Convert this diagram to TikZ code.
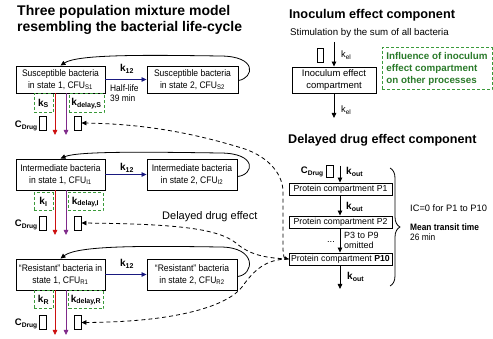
\documentclass[tikz,border=0pt]{standalone}
\usepackage{fontspec}
\setmainfont{Liberation Sans}
\newfontfamily\narrowfont[FakeStretch=0.9]{Liberation Sans}
\usetikzlibrary{arrows.meta,calc,decorations.pathreplacing}
\definecolor{dgreen}{HTML}{3A9A3A}
\definecolor{gtext}{HTML}{2A7A2A}
\definecolor{kred}{HTML}{CC1010}
\definecolor{kpurple}{HTML}{7F2A8A}
\definecolor{knavy}{HTML}{1A1A80}
\newcommand{\sbs}[1]{\textsubscript{#1}}
\begin{document}
\begin{tikzpicture}[x=1pt,y=-1pt,
  font=\fontsize{9.3}{11}\selectfont,
  bbox/.style={draw,line width=0.9pt,align=center,inner sep=0pt,font=\narrowfont\fontsize{9.5}{12}\selectfont},
  pbox/.style={draw,line width=0.9pt,inner sep=0pt,minimum width=103,minimum height=12,font=\fontsize{8.7}{10}\selectfont},
  gbox/.style={draw=dgreen,line width=1pt,dash pattern=on 3pt off 2pt,inner sep=0pt,font=\bfseries\fontsize{10}{12}\selectfont},
  inrect/.style={draw,line width=0.9pt,minimum width=7,minimum height=14,inner sep=0pt},
  arr/.style={line width=0.8pt,-{Triangle[length=5pt,width=4.5pt]}},
  loopar/.style={line width=0.8pt,-{Triangle[length=5pt,width=4.5pt]}},
  dline/.style={line width=0.8pt,dash pattern=on 4pt off 3pt,-{Triangle[length=5pt,width=4.5pt]}},
  klab/.style={font=\bfseries\fontsize{10}{12}\selectfont,inner sep=0pt},
  cdrug/.style={font=\bfseries\fontsize{9.5}{11}\selectfont,inner sep=0pt,anchor=east}
]
\useasboundingbox (0,0) rectangle (493,339);

% ---------- titles ----------
\node[anchor=west,align=left,inner sep=0pt,font=\bfseries\fontsize{14}{16}\selectfont] (t1) at (17,20) {Three population mixture model\\resembling the bacterial life-cycle};
\node[anchor=west,inner sep=0pt,font=\bfseries\fontsize{12.7}{15}\selectfont] (t2) at (289,15) {Inoculum effect component};
\node[anchor=west,inner sep=0pt,font=\fontsize{9.7}{12}\selectfont] (t3) at (290,33) {Stimulation by the sum of all bacteria};
\node[anchor=west,inner sep=0pt,font=\bfseries\fontsize{12.6}{15}\selectfont] (t4) at (288,140) {Delayed drug effect component};
\node[anchor=west,inner sep=0pt,font=\fontsize{11}{13}\selectfont] (dde) at (162,217) {Delayed drug effect};

% ---------- bacteria boxes ----------
\node[bbox,minimum width=89,minimum height=27] (S1) at (60.5,79.5) {Susceptible bacteria\\in state 1, CFU\sbs{S1}};
\node[bbox,minimum width=91,minimum height=27] (S2) at (192.5,79.5) {Susceptible bacteria\\in state 2, CFU\sbs{S2}};
\node[bbox,minimum width=89,minimum height=31] (I1) at (60.5,174.5) {Intermediate bacteria\\in state 1, CFU\sbs{I1}};
\node[bbox,minimum width=90,minimum height=31] (I2) at (192,174.5) {Intermediate bacteria\\in state 2, CFU\sbs{I2}};
\node[bbox,minimum width=89,minimum height=31] (R1) at (60.5,274.5) {“Resistant” bacteria in\\state 1, CFU\sbs{R1}};
\node[bbox,minimum width=90,minimum height=31] (R2) at (192,274.5) {“Resistant” bacteria\\in state 2, CFU\sbs{R2}};

% k12 arrows
\draw[arr,draw=knavy,-{Triangle[length=5pt,width=4.5pt,fill=knavy]}] (S1) -- (S2);
\draw[arr,draw=knavy,-{Triangle[length=5pt,width=4.5pt,fill=knavy]}] (I1) -- (I2);
\draw[arr,draw=knavy,-{Triangle[length=5pt,width=4.5pt,fill=knavy]}] (R1) -- (R2);
\node[klab] (k12S) at (127,69) {k\sbs{12}};
\node[klab] (k12I) at (127,168) {k\sbs{12}};
\node[klab] (k12R) at (127,264) {k\sbs{12}};
\node[anchor=west,align=left,inner sep=0pt,font=\narrowfont\fontsize{9.3}{10.5}\selectfont] (hl) at (110,93) {Half-life\\39 min};

% loops
\draw[loopar] ($(S2.east)+(0,1)$) .. controls (254,78) and (258,56) .. (220,56) .. controls (150,55) and (78,54) .. (S1.north);
\draw[loopar] ($(I2.east)+(0,2)$) .. controls (254,175) and (258,153) .. (220,153) .. controls (150,152) and (78,151) .. (I1.north);
\draw[loopar] ($(R2.east)+(0,2)$) .. controls (254,275) and (258,247) .. (220,247) .. controls (150,246) and (78,245) .. (R1.north);

% ---------- kill / delay terms ----------
\node[gbox,minimum width=19,minimum height=19] (kS) at (43.5,103.5) {k\sbs{S}};
\node[gbox,minimum width=35,minimum height=19] (kdS) at (86.5,103.5) {k\sbs{delay,S}};
\node[gbox,minimum width=19,minimum height=18] (kI) at (43.5,202) {k\sbs{I}};
\node[gbox,minimum width=35,minimum height=18] (kdI) at (85.5,202) {k\sbs{delay,I}};
\node[gbox,minimum width=19,minimum height=18] (kR) at (43.5,300) {k\sbs{R}};
\node[gbox,minimum width=35,minimum height=18] (kdR) at (86,300) {k\sbs{delay,R}};

\coordinate (rS) at (55,135); \coordinate (pS) at (66,135);
\coordinate (rI) at (55,235); \coordinate (pI) at (66,235);
\coordinate (rR) at (55,335); \coordinate (pR) at (66,335);
\draw[arr,draw=kred,-{Triangle[length=5pt,width=4.5pt,fill=kred]}] (rS |- S1.south) -- (rS);
\draw[arr,draw=kpurple,-{Triangle[length=5pt,width=4.5pt,fill=kpurple]}] (pS |- S1.south) -- (pS);
\draw[arr,draw=kred,-{Triangle[length=5pt,width=4.5pt,fill=kred]}] (rI |- I1.south) -- (rI);
\draw[arr,draw=kpurple,-{Triangle[length=5pt,width=4.5pt,fill=kpurple]}] (pI |- I1.south) -- (pI);
\draw[arr,draw=kred,-{Triangle[length=5pt,width=4.5pt,fill=kred]}] (rR |- R1.south) -- (rR);
\draw[arr,draw=kpurple,-{Triangle[length=5pt,width=4.5pt,fill=kpurple]}] (pR |- R1.south) -- (pR);

\node[inrect] (cS) at (42.5,123) {};
\node[inrect] (dS) at (77.5,123) {};
\node[inrect] (cI) at (42.5,223) {};
\node[inrect] (dI) at (77.5,223) {};
\node[inrect] (cR) at (42.5,322.5) {};
\node[inrect] (dR) at (77.5,322.5) {};
\node[cdrug] (CS) at (38,126) {C\sbs{Drug}};
\node[cdrug] (CI) at (38,225) {C\sbs{Drug}};
\node[cdrug] (CR) at (38,324) {C\sbs{Drug}};

% ---------- inoculum component ----------
\node[inrect,minimum width=6] (iin) at (320,55) {};
\coordinate (istart) at (334,42);
\node[draw,line width=0.9pt,minimum width=84,minimum height=26,align=center,inner sep=0pt,font=\fontsize{9.5}{12}\selectfont] (inoc) at (334,80) {Inoculum effect\\compartment};
\draw[arr] (istart) -- (inoc.north);
\node[anchor=west,inner sep=0pt] (kel1) at (341,55) {k\sbs{el}};
\coordinate (iend) at (334,118);
\draw[arr] (inoc.south) -- (iend);
\node[anchor=west,inner sep=0pt] (kel2) at (341,110) {k\sbs{el}};
\node[gbox,text=gtext,align=left,minimum width=110,minimum height=42,inner sep=0pt,font=\bfseries\fontsize{9.8}{12.3}\selectfont] (infl) at (437,69) {Influence of inoculum\\effect compartment\\on other processes};

% ---------- protein chain ----------
\node[cdrug] (CP) at (324,172) {C\sbs{Drug}};
\node[inrect,minimum height=12] (pin) at (329.5,171) {};
\coordinate (pstart) at (340,166);
\node[pbox] (P1) at (340.5,189) {Protein compartment P1};
\node[pbox] (P2) at (340.5,222) {Protein compartment P2};
\node[pbox] (P10) at (340.5,259) {Protein compartment \textbf{P10}};
\coordinate (pend) at (340,289);
\draw[arr] (pstart) -- (P1.north -| pstart);
\draw[arr] (P1.south -| pstart) -- (P2.north -| pstart);
\draw[arr] (P2.south -| pstart) -- (P10.north -| pstart);
\draw[arr] (P10.south -| pstart) -- (pend);
\node[klab,anchor=west] (ko1) at (346,172) {k\sbs{out}};
\node[klab,anchor=west] (ko2) at (346,207) {k\sbs{out}};
\node[klab,anchor=west] (ko3) at (347,277) {k\sbs{out}};
\node[anchor=west,align=left,inner sep=0pt,font=\fontsize{9}{10}\selectfont] (om) at (344,240) {P3 to P9\\omitted};
\node[inner sep=0pt] (dots) at (331,242) {...};
\node[anchor=west,inner sep=0pt,font=\fontsize{9.3}{11}\selectfont] (ic) at (410,208) {IC=0 for P1 to P10};
\coordinate (b1) at (390,168); \coordinate (b2) at (390,286);
\draw[decorate,decoration={brace,amplitude=10pt},line width=0.8pt] (b1) -- (b2);
\node[anchor=west,align=left,inner sep=0pt,font=\narrowfont\fontsize{9.3}{10.5}\selectfont] (mtt) at (410,232) {\textbf{Mean transit time}\\26 min};

% ---------- delayed-effect links ----------
\draw[dline,{Triangle[length=4pt,width=3.5pt]}-{Triangle[length=5pt,width=4.5pt]}] (P10.west) .. controls (284,258) .. (283,250) -- (283,192) .. controls (283,175) and (270,158) .. (245,149) .. controls (200,135) and (150,124) .. (dS.east);
\draw[dline] (P10.west) .. controls (265,258) and (250,255) .. (236,243) .. controls (218,229) and (180,224) .. (dI.east);
\draw[dline] (P10.west) .. controls (266,259) and (254,270) .. (242,287) .. controls (228,305) and (180,322) .. (dR.east);
\end{tikzpicture}
\end{document}
